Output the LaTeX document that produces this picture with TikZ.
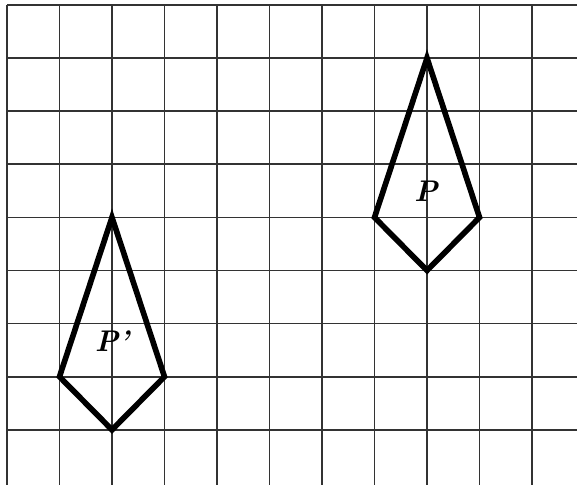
\documentclass[tikz,border=0pt]{standalone}
\usepackage{tikz}
\usetikzlibrary{positioning}

\begin{document}
\begin{tikzpicture}[x=1.05cm, y=-1.062cm,
  gridline/.style={black!80, line width=1pt},
  kite/.style={black, line width=3.2pt, line join=miter},
  kitelabel/.style={font=\fontsize{17}{20}\selectfont\bfseries\itshape}]
\useasboundingbox (-0.133,-0.094) rectangle (10.857,9.04);
% grid
\foreach \x in {0,...,10}
  \draw[gridline] (\x,0) -- (\x,9.04);
\foreach \y in {0,...,8}
  \draw[gridline] (0,\y) -- (10.857,\y);
% kite P
\coordinate (ptop) at (8,1);
\coordinate (pleft) at (7,4);
\coordinate (pbot) at (8,5);
\coordinate (pright) at (9,4);
\draw[kite] (ptop) -- (pleft) -- (pbot) -- (pright) -- cycle;
\node[kitelabel] (plab) at (7.98,3.5) {P};
% kite P'
\coordinate (qtop) at (2,4);
\coordinate (qleft) at (1,7);
\coordinate (qbot) at (2,8);
\coordinate (qright) at (3,7);
\draw[kite] (qtop) -- (qleft) -- (qbot) -- (qright) -- cycle;
\node[kitelabel] (qlab) at (2,6.33) {P’};
\end{tikzpicture}
\end{document}
